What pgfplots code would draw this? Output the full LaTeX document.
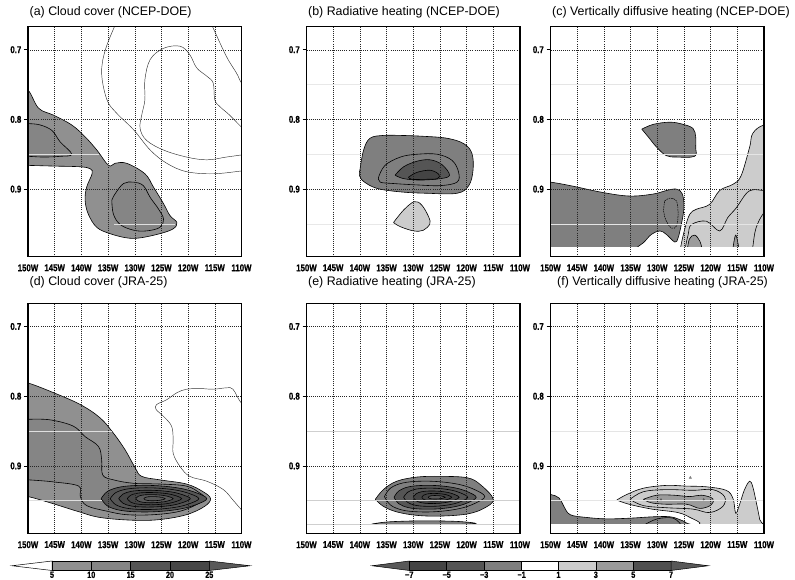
\documentclass[border=0pt]{standalone}
\usepackage{fontspec}
\setmainfont{Liberation Sans}
\newfontfamily\tickfont[FakeStretch=0.8, FakeBold=0.8]{Liberation Sans Bold}
\usepackage{pgfplots}
\pgfplotsset{compat=1.18}
\newcommand\tf{\tickfont\fontsize{9.8}{10}\selectfont}
\newcommand\cbf{\tickfont\fontsize{9}{9}\selectfont}
\newcommand\titlefont{\fontsize{12.4}{14}\selectfont}
\definecolor{cA}{HTML}{909090}
\definecolor{cB}{HTML}{858585}
\definecolor{cC}{HTML}{555555}
\definecolor{cD}{HTML}{474747}
\definecolor{cE}{HTML}{5A5A5A}
\definecolor{hN7}{HTML}{444444}
\definecolor{hN5}{HTML}{555555}
\definecolor{hN3}{HTML}{7F7F7F}
\definecolor{hP1}{HTML}{CCCCCC}
\definecolor{hP3}{HTML}{9B9B9B}
\definecolor{hP5}{HTML}{505050}
\definecolor{hEx}{HTML}{585858}
\pgfplotsset{
 panel/.style={
  scale only axis, width=213.5pt, height=230pt,
  at={#1}, anchor=south west,
  xmin=-150, xmax=-110, ymin=0.667, ymax=0.997, y dir=reverse,
  xtick={-150,-145,...,-110},
  xticklabels={150W,145W,140W,135W,130W,125W,120W,115W,110W},
  ytick={0.7,0.8,0.9}, yticklabels={0.7,0.8,0.9},
  grid=major, grid style={black!85, line width=0.4pt, dash pattern=on 0.5pt off 1.6pt},
  axis line style={line width=1.2pt},
  axis on top,
  tick align=outside, major tick length=4pt, tick pos=left,
  xtick style={draw=none}, ytick style={black, line width=0.6pt},
  tick label style={font=\tf},
  xticklabel style={inner sep=0pt, yshift=-3.5pt},
  yticklabel style={inner sep=0pt, xshift=-2.5pt},
  title style={at={(0,1)}, anchor=base west, inner sep=0pt, xshift=1.5pt, yshift=5pt, font=\titlefont},
 },
 fl/.style={fill=#1, draw=black, line width=0.6pt, smooth, tension=0.6},
 cl/.style={black, line width=0.6pt, smooth, tension=0.6},
 nl/.style={black!80, line width=0.45pt, smooth, tension=0.6},
 dl/.style={black, line width=0.5pt, smooth, tension=0.6, dash pattern=on 1.6pt off 0.8pt},
 ll/.style={draw=#1, line width=0.6pt},
}
\begin{document}
\begin{tikzpicture}
% ================= (a)
\begin{axis}[panel={(28pt,322.3pt)}, title={(a) Cloud cover (NCEP-DOE)}]
\addplot[fl=cA] coordinates {(-152,0.757) (-150,0.758) (-148,0.784) (-145.2,0.794) (-141.8,0.808) (-139.3,0.825) (-137.1,0.844) (-134.9,0.866) (-133.7,0.863) (-131.5,0.863) (-128.1,0.878) (-126.5,0.897) (-124.6,0.921) (-123.4,0.938) (-122.1,0.948) (-122.8,0.957) (-125.3,0.964) (-129.0,0.970) (-131.5,0.970) (-134.6,0.964) (-137.1,0.955) (-138.7,0.936) (-139.3,0.916) (-139.0,0.897) (-138.0,0.878) (-138.3,0.871) (-140.2,0.868) (-145.2,0.867) (-150,0.866) (-152,0.866)};
\addplot[fl=cB] coordinates {(-152,0.806) (-150,0.806) (-147.7,0.808) (-145.5,0.816) (-144,0.832) (-141.8,0.850) (-144,0.853) (-147.1,0.854) (-150,0.853) (-152,0.853)};
\addplot[fl=cB] coordinates {(-134.3,0.916) (-133.7,0.907) (-132.1,0.892) (-130.2,0.890) (-128.4,0.895) (-127.1,0.912) (-125.6,0.928) (-124.6,0.943) (-125.3,0.955) (-127.8,0.960) (-130.2,0.959) (-132.7,0.951) (-134.0,0.936) (-134.3,0.916)};
\addplot[ll=white!75!gray] coordinates {(-150,0.85) (-136.7,0.85)};
\addplot[ll=white!75!gray] coordinates {(-133.9,0.95) (-122.4,0.95)};
\addplot[nl] coordinates {(-133.4,0.660) (-135.5,0.70) (-136.2,0.734) (-135.2,0.772) (-133.4,0.791) (-130.2,0.815) (-127.1,0.844) (-124.0,0.863) (-120.3,0.875) (-115.3,0.878) (-110,0.874) (-109,0.873)};
\addplot[nl] coordinates {(-115.8,0.660) (-115.3,0.669) (-112.8,0.71) (-110.9,0.734) (-110,0.748) (-109,0.752)};
\addplot[nl] coordinates {(-109,0.850) (-110,0.851) (-112.8,0.854) (-116.5,0.858) (-120.3,0.854) (-124.6,0.844) (-127.8,0.830) (-129.0,0.813) (-128.7,0.794) (-128.1,0.772) (-128.1,0.743) (-127.1,0.714) (-124.6,0.698) (-121.5,0.695) (-119.7,0.707) (-118.4,0.726) (-116.5,0.738) (-115.3,0.748) (-115.0,0.772) (-114.0,0.782) (-112.2,0.794) (-110,0.811) (-109,0.816)};
\end{axis}
% ================= (b)
\begin{axis}[panel={(306.5pt,322.3pt)}, title={(b) Radiative heating (NCEP-DOE)}]
\addplot[ll=white!82!gray] coordinates {(-151,0.75) (-109,0.75)};
\addplot[ll=white!82!gray] coordinates {(-151,0.85) (-109,0.85)};
\addplot[ll=white!82!gray] coordinates {(-151,0.95) (-109,0.95)};
\addplot[fl=hN3] coordinates {(-140.0,0.873) (-139.3,0.844) (-138.1,0.827) (-135.6,0.823) (-132.4,0.823) (-128.7,0.824) (-123.7,0.827) (-120.5,0.835) (-119.0,0.849) (-118.8,0.873) (-119.6,0.895) (-121.8,0.906) (-127.4,0.906) (-132.4,0.904) (-136.8,0.899) (-139.3,0.889) (-140.1,0.880) (-140.0,0.873)};
\addplot[cl] coordinates {(-136.5,0.883) (-135.3,0.866) (-132.4,0.854) (-129.3,0.850) (-125.5,0.850) (-122.7,0.859) (-121.5,0.876) (-121.8,0.890) (-124.9,0.895) (-129.3,0.894) (-133.7,0.892) (-136.2,0.890) (-136.5,0.883)};
\addplot[fl=hN5] coordinates {(-133.4,0.880) (-131.8,0.868) (-129.3,0.860) (-126.8,0.858) (-124.6,0.865) (-123.2,0.880) (-124.9,0.885) (-128.7,0.887) (-131.8,0.885) (-133.4,0.880)};
\addplot[fl=hN7] coordinates {(-130.9,0.883) (-129.3,0.876) (-126.8,0.873) (-125.2,0.879) (-125.5,0.885) (-128.1,0.886) (-130.3,0.886) (-130.9,0.883)};
\addplot[fl=hP1] coordinates {(-133.7,0.948) (-131.8,0.930) (-129.8,0.918) (-128.4,0.923) (-127.1,0.940) (-126.9,0.950) (-128.1,0.959) (-129.9,0.960) (-132.4,0.954) (-133.7,0.948)};
\end{axis}
% ================= (c)
\begin{axis}[panel={(550.5pt,322.3pt)}, title={(c) Vertically diffusive heating (NCEP-DOE)}]
\addplot[fl=hN3] coordinates {(-132.9,0.814) (-130.7,0.807) (-127.6,0.804) (-125.2,0.807) (-123.3,0.813) (-122.8,0.825) (-122.8,0.840) (-123.0,0.853) (-126.4,0.854) (-128.3,0.852) (-130.1,0.840) (-131.7,0.825) (-132.9,0.814)};
\addplot[fl=hN3] coordinates {(-152,0.889) (-150,0.890) (-146.3,0.895) (-140.1,0.905) (-135.1,0.910) (-130.7,0.907) (-128.3,0.902) (-126.4,0.900) (-125.3,0.907) (-125.0,0.927) (-125.5,0.951) (-126.1,0.970) (-126.7,0.976) (-128.3,0.965) (-129.5,0.960) (-131.1,0.965) (-132.6,0.977) (-134.2,0.986) (-135,0.995) (-152,0.995)};
\addplot[dl] coordinates {(-128.6,0.917) (-127.6,0.913) (-126.4,0.917) (-126.1,0.936) (-126.4,0.953) (-127.3,0.956) (-128.3,0.946) (-128.8,0.932) (-128.6,0.917)};
\addplot[fl=hP1] coordinates {(-125.6,0.995) (-125.6,0.983) (-124.8,0.956) (-123.9,0.936) (-122.7,0.929) (-120.2,0.922) (-118.3,0.902) (-115.8,0.893) (-114.3,0.881) (-112.7,0.840) (-112.1,0.820) (-110,0.808) (-106,0.805) (-106,1.0)};
\addplot[fl=hP3] coordinates {(-124.4,0.99) (-124.0,0.972) (-123.0,0.966) (-122.0,0.975) (-121.5,0.99)};
\addplot[fl=hP3] coordinates {(-115.9,0.99) (-115.3,0.966) (-114.6,0.99)};
\addplot[cl] coordinates {(-124.7,0.990) (-124.7,0.983) (-124.2,0.965) (-123.6,0.951) (-120.8,0.946) (-118.3,0.960) (-116.8,0.941) (-115.2,0.927) (-113.4,0.907) (-112.1,0.901) (-110,0.902) (-108,0.902)};
\addplot[cl] coordinates {(-112.3,0.990) (-112.1,0.983) (-111.5,0.956) (-110,0.934) (-108,0.925)};
\addplot[fill=white, draw=none] coordinates {(-152,0.9835) (-108,0.9835) (-108,1.02) (-152,1.02)};
\addplot[ll=white!80!gray] coordinates {(-151,0.75) (-109,0.75)};
\addplot[ll=white!80!gray] coordinates {(-151,0.85) (-109,0.85)};
\addplot[ll=white!80!gray] coordinates {(-151,0.95) (-109,0.95)};
\end{axis}
% ================= (d)
\begin{axis}[panel={(28pt,45.5pt)}, title={(d) Cloud cover (JRA-25)}, title style={yshift=7pt}]
\addplot[fl=cA] coordinates {(-152,0.780) (-150,0.781) (-145.2,0.795) (-140.2,0.812) (-136.5,0.831) (-134.0,0.853) (-131.8,0.877) (-129.9,0.903) (-128.7,0.915) (-125.3,0.920) (-120.3,0.926) (-117.2,0.937) (-115.8,0.947) (-116.9,0.958) (-120.3,0.970) (-125.3,0.977) (-130.2,0.978) (-136.5,0.974) (-140.8,0.965) (-145.8,0.953) (-150,0.944) (-152,0.943)};
\addplot[fl=cB] coordinates {(-152,0.833) (-150,0.833) (-145.8,0.834) (-141.5,0.843) (-139.3,0.858) (-136.8,0.872) (-136.2,0.891) (-136.0,0.913) (-134.0,0.920) (-130.2,0.925) (-125.3,0.926) (-120.3,0.929) (-117.8,0.939) (-116.9,0.946) (-117.8,0.953) (-121.5,0.965) (-126.5,0.970) (-131.5,0.970) (-135.2,0.965) (-139.0,0.957) (-140.2,0.944) (-140.5,0.929) (-145.2,0.923) (-150,0.920) (-152,0.920)};
\addplot[fl=cC] coordinates {(-136.3,0.947) (-135.11,0.9366) (-132.74,0.9303) (-129.37,0.928) (-125.41,0.9286) (-121.45,0.9322) (-118.48,0.9385) (-116.5,0.947) (-118.48,0.9555) (-121.45,0.9618) (-125.41,0.9654) (-129.37,0.966) (-132.74,0.9637) (-135.11,0.9575) (-136.3,0.947)};
\addplot[fl=cC] coordinates {(-134.6,0.947) (-133.6,0.9385) (-131.61,0.9334) (-128.79,0.9315) (-125.47,0.932) (-122.15,0.9349) (-119.66,0.94) (-118.0,0.947) (-119.66,0.954) (-122.15,0.9591) (-125.47,0.962) (-128.79,0.9625) (-131.61,0.9606) (-133.6,0.9555) (-134.6,0.947)};
\addplot[fl=cD] coordinates {(-133.0,0.947) (-132.2,0.9404) (-130.59,0.9364) (-128.31,0.935) (-125.63,0.9354) (-122.95,0.9376) (-120.94,0.9416) (-119.6,0.947) (-120.94,0.9524) (-122.95,0.9564) (-125.63,0.9586) (-128.31,0.959) (-130.59,0.9576) (-132.2,0.9536) (-133.0,0.947)};
\addplot[fl=cD] coordinates {(-131.4,0.947) (-130.79,0.9422) (-129.56,0.9393) (-127.83,0.9382) (-125.79,0.9385) (-123.75,0.9401) (-122.22,0.943) (-121.2,0.947) (-122.22,0.951) (-123.75,0.9539) (-125.79,0.9555) (-127.83,0.9558) (-129.56,0.9547) (-130.79,0.9518) (-131.4,0.947)};
\addplot[fl=cE] coordinates {(-129.8,0.947) (-129.38,0.9438) (-128.54,0.9419) (-127.35,0.9412) (-125.95,0.9414) (-124.55,0.9425) (-123.5,0.9444) (-122.8,0.947) (-123.5,0.9496) (-124.55,0.9515) (-125.95,0.9526) (-127.35,0.9528) (-128.54,0.9521) (-129.38,0.9502) (-129.8,0.947)};
\addplot[fl=cE] coordinates {(-128.3,0.947) (-128.06,0.9454) (-127.58,0.9444) (-126.9,0.944) (-126.1,0.9441) (-125.3,0.9447) (-124.7,0.9457) (-124.3,0.947) (-124.7,0.9484) (-125.3,0.9493) (-126.1,0.9499) (-126.9,0.95) (-127.58,0.9496) (-128.06,0.9486) (-128.3,0.947)};
\addplot[ll=white!75!gray] coordinates {(-150,0.85) (-134.3,0.85)};
\addplot[ll=white!75!gray] coordinates {(-150,0.95) (-136.2,0.95)};
\addplot[nl] coordinates {(-108,0.818) (-110,0.810) (-111.6,0.790) (-112.8,0.788) (-115.3,0.790) (-117.8,0.789) (-120.3,0.790) (-122.1,0.795) (-124.0,0.805) (-125.9,0.812) (-126.0,0.819) (-124.6,0.829) (-123.1,0.843) (-122.8,0.862) (-122.8,0.882) (-121.5,0.901) (-119.7,0.915) (-116.5,0.922) (-113.4,0.934) (-111.6,0.949) (-110,0.963) (-109,0.970)};
\end{axis}
% ================= (e)
\begin{axis}[panel={(306.5pt,45.5pt)}, title={(e) Radiative heating (JRA-25)}, title style={yshift=7pt}]
\addplot[fl=hN3] coordinates {(-137.1,0.948) (-135.6,0.934) (-133.1,0.922) (-129.3,0.916) (-124.9,0.915) (-119.9,0.917) (-117.4,0.927) (-115.0,0.948) (-116.8,0.961) (-119.9,0.969) (-124.9,0.972) (-129.3,0.971) (-133.1,0.966) (-135.6,0.958) (-137.1,0.948)};
\addplot[fl=hN3] coordinates {(-135.4,0.944) (-134.27,0.9319) (-132.02,0.9246) (-128.82,0.922) (-125.06,0.9227) (-121.3,0.9268) (-118.48,0.9341) (-116.6,0.944) (-118.48,0.9539) (-121.3,0.9612) (-125.06,0.9653) (-128.82,0.966) (-132.02,0.9634) (-134.27,0.9561) (-135.4,0.944)};
\addplot[fl=hN5] coordinates {(-133.6,0.945) (-132.68,0.9357) (-130.83,0.93) (-128.21,0.928) (-125.13,0.9285) (-122.05,0.9317) (-119.74,0.9374) (-118.2,0.945) (-119.74,0.9527) (-122.05,0.9583) (-125.13,0.9615) (-128.21,0.962) (-130.83,0.96) (-132.68,0.9544) (-133.6,0.945)};
\addplot[fl=hN5] coordinates {(-131.8,0.945) (-131.08,0.9379) (-129.64,0.9336) (-127.6,0.932) (-125.2,0.9324) (-122.8,0.9349) (-121.0,0.9392) (-119.8,0.945) (-121.0,0.9509) (-122.8,0.9551) (-125.2,0.9576) (-127.6,0.958) (-129.64,0.9564) (-131.08,0.9522) (-131.8,0.945)};
\addplot[fl=hN7] coordinates {(-130.0,0.945) (-129.48,0.9401) (-128.45,0.9371) (-126.99,0.936) (-125.27,0.9363) (-123.55,0.938) (-122.26,0.941) (-121.4,0.945) (-122.26,0.9491) (-123.55,0.952) (-125.27,0.9537) (-126.99,0.954) (-128.45,0.9529) (-129.48,0.95) (-130.0,0.945)};
\addplot[fl=hN7] coordinates {(-128.4,0.945) (-128.06,0.942) (-127.39,0.9402) (-126.44,0.9395) (-125.32,0.9397) (-124.2,0.9407) (-123.36,0.9425) (-122.8,0.945) (-123.36,0.9475) (-124.2,0.9493) (-125.32,0.9503) (-126.44,0.9505) (-127.39,0.9498) (-128.06,0.948) (-128.4,0.945)};
\addplot[fl=hEx] coordinates {(-127.2,0.945) (-127.01,0.9436) (-126.62,0.9428) (-126.08,0.9425) (-125.44,0.9426) (-124.8,0.9431) (-124.32,0.9439) (-124.0,0.945) (-124.32,0.9461) (-124.8,0.947) (-125.44,0.9474) (-126.08,0.9475) (-126.62,0.9472) (-127.01,0.9464) (-127.2,0.945)};
\addplot[fl=hN3] coordinates {(-137.8,0.9835) (-135,0.9805) (-130,0.979) (-125,0.979) (-121,0.980) (-118.3,0.9825) (-121,0.9838) (-128,0.9842) (-135,0.984) (-137.8,0.9835)};
\addplot[ll=white!62!gray] coordinates {(-151,0.85) (-109,0.85)};
\addplot[ll=white!62!gray] coordinates {(-151,0.95) (-109,0.95)};
\addplot[ll=white!62!gray] coordinates {(-151,0.9835) (-109,0.9835)};
\end{axis}
% ================= (f)
\begin{axis}[panel={(550.5pt,45.5pt)}, title={(f) Vertically diffusive heating (JRA-25)}, title style={yshift=7pt, xshift=5pt}]
\addplot[fl=hN3] coordinates {(-152,0.941) (-150,0.941) (-148.4,0.946) (-147.5,0.958) (-146.3,0.970) (-143.2,0.974) (-139.4,0.976) (-135.1,0.975) (-130.7,0.973) (-127.6,0.973) (-125.8,0.977) (-124.5,0.982) (-124,0.99) (-152,0.99)};
\addplot[cl] coordinates {(-132.5,0.985) (-130,0.976) (-127,0.975) (-125.5,0.985)};
\addplot[fl=hP1] coordinates {(-137.6,0.949) (-135.7,0.941) (-132.6,0.932) (-128.3,0.928) (-124.5,0.929) (-120.8,0.930) (-117.1,0.935) (-115.8,0.947) (-115.3,0.968) (-114.6,0.956) (-113.7,0.935) (-112.7,0.922) (-112.1,0.930) (-111.4,0.954) (-110.8,0.977) (-110.6,0.99) (-122.0,0.99) (-122.0,0.982) (-123.6,0.975) (-126.1,0.967) (-131.0,0.962) (-135.3,0.955) (-137.6,0.949)};
\addplot[cl] coordinates {(-135.1,0.948) (-132.6,0.937) (-128.3,0.934) (-123.3,0.935) (-119.6,0.934) (-117.4,0.944) (-117.7,0.958) (-120.2,0.967) (-123.3,0.962) (-128.3,0.960) (-132.6,0.957) (-135.1,0.948)};
\addplot[fl=hP3] coordinates {(-132.6,0.948) (-130.1,0.942) (-127.0,0.942) (-123.9,0.944) (-121.7,0.942) (-119.6,0.947) (-119.9,0.956) (-122.0,0.961) (-124.5,0.955) (-128.3,0.955) (-131.1,0.953) (-132.6,0.948)};
\addplot[only marks, mark=*, mark size=0.8pt, color=hN5] coordinates {(-129.3,0.948) (-121.3,0.948)};
\addplot[only marks, mark=triangle*, mark size=1.4pt, color=hN3] coordinates {(-123.8,0.917)};
\addplot[fill=white, draw=none] coordinates {(-152,0.9835) (-108,0.9835) (-108,1.02) (-152,1.02)};
\addplot[ll=white!80!gray] coordinates {(-151,0.85) (-109,0.85)};
\addplot[ll=white!80!gray] coordinates {(-151,0.95) (-109,0.95)};
\end{axis}
% ================= colour bars
\begin{scope}[x=1pt, y=1pt, line width=0.5pt]
\filldraw[fill=white, draw=black] (12,13.25) -- (52,18) -- (52,8.5) -- cycle;
\filldraw[fill=cA, draw=black] (52,8.5) rectangle (91.3,18);
\filldraw[fill=cB, draw=black] (91.3,8.5) rectangle (130.6,18);
\filldraw[fill=cC, draw=black] (130.6,8.5) rectangle (170,18);
\filldraw[fill=cD, draw=black] (170,8.5) rectangle (209.3,18);
\filldraw[fill=cE, draw=black] (209.3,8.5) -- (250,13.25) -- (209.3,18) -- cycle;
\foreach \x/\t in {52/5, 91.3/10, 130.6/15, 170/20, 209.3/25}
  \node[anchor=north, inner sep=0pt, font=\cbf] at (\x,7.6) {\t};
\filldraw[fill=hEx, draw=black] (372,13.25) -- (409.3,18) -- (409.3,8.5) -- cycle;
\filldraw[fill=hN7, draw=black] (409.3,8.5) rectangle (446.7,18);
\filldraw[fill=hN5, draw=black] (446.7,8.5) rectangle (484.2,18);
\filldraw[fill=hN3, draw=black] (484.2,8.5) rectangle (521.6,18);
\filldraw[fill=white, draw=black] (521.6,8.5) rectangle (558.5,18);
\filldraw[fill=hP1, draw=black] (558.5,8.5) rectangle (595.8,18);
\filldraw[fill=hP3, draw=black] (595.8,8.5) rectangle (633.3,18);
\filldraw[fill=hP5, draw=black] (633.3,8.5) rectangle (671,18);
\filldraw[fill=hEx, draw=black] (671,8.5) -- (708.3,13.25) -- (671,18) -- cycle;
\foreach \x/\t in {409.3/−7, 446.7/−5, 484.2/−3, 521.6/−1, 558.5/1, 595.8/3, 633.3/5, 671/7}
  \node[anchor=north, inner sep=0pt, font=\cbf] at (\x,7.6) {\t};
\end{scope}
\pgfresetboundingbox
\path[use as bounding box] (0,0) rectangle (795pt,579pt);
\end{tikzpicture}
\end{document}
